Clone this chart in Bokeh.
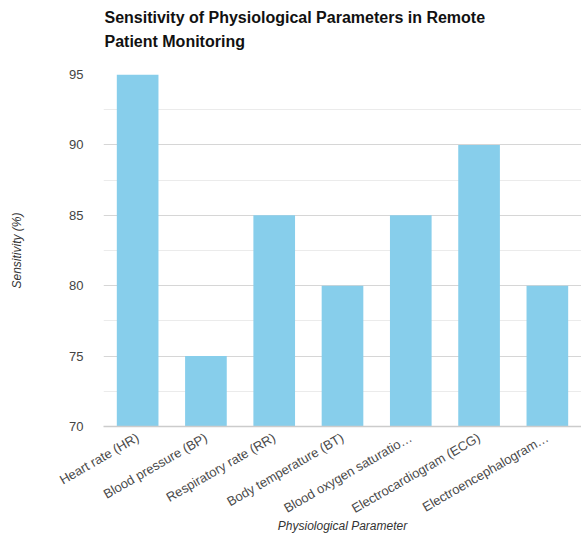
from math import pi

from bokeh.embed import file_html
from bokeh.models import FixedTicker, ColumnDataSource
from bokeh.plotting import figure
from bokeh.resources import INLINE

# Sensitivity of each physiological parameter (%); long names are shortened
# the way they appear on the category axis
parameters = [
    "Heart rate (HR)",
    "Blood pressure (BP)",
    "Respiratory rate (RR)",
    "Body temperature (BT)",
    "Blood oxygen saturatio…",
    "Electrocardiogram (ECG)",
    "Electroencephalogram…",
]
sensitivity = [95, 75, 85, 80, 85, 90, 80]

y_ticks = [70, 75, 80, 85, 90, 95]
y_minor = [72.5, 77.5, 82.5, 87.5, 92.5]

title_lines = ["Sensitivity of Physiological Parameters in Remote", "Patient Monitoring"]

source = ColumnDataSource(data=dict(parameter=parameters, value=sensitivity))

FONT = "Liberation Sans"

p = figure(
    x_range=parameters,
    y_range=(70, 95),
    width=581,
    height=537,
    output_backend="svg",
    toolbar_location=None,
    min_border_left=103,
    min_border_right=0,
    min_border_top=74,
    min_border_bottom=111,
    outline_line_color=None,
    background_fill_color="white",
    border_fill_color="white",
)

# Title block; a blank (non-breaking space) third line keeps the gap to the frame
p.title.text = "\n".join(title_lines + ["\u00a0"])
p.title.text_font = FONT
p.title.text_font_size = "16px"
p.title.text_font_style = "bold"
p.title.text_color = "#111111"
p.title.text_line_height = 1.44
p.title.offset = 1
p.title.standoff = 0

p.vbar(x="parameter", top="value", bottom=70, width=0.61, source=source,
       fill_color="#87CEEB", line_color=None)

# Y axis
p.yaxis.ticker = FixedTicker(ticks=y_ticks, minor_ticks=y_minor)
p.yaxis.axis_line_color = None
p.yaxis.major_tick_line_color = None
p.yaxis.minor_tick_line_color = None
p.yaxis.major_label_text_font = FONT
p.yaxis.major_label_text_font_size = "13px"
p.yaxis.major_label_text_color = "#444444"
p.yaxis.major_label_standoff = 14
p.yaxis.axis_label = "Sensitivity (%)"
p.yaxis.axis_label_text_font = FONT
p.yaxis.axis_label_text_font_size = "12px"
p.yaxis.axis_label_text_font_style = "italic"
p.yaxis.axis_label_text_color = "#333333"
p.yaxis.axis_label_standoff = 42

# X axis
p.xaxis.major_label_orientation = pi / 6
p.xaxis.axis_line_color = "#cccccc"
p.xaxis.axis_line_width = 1.5
p.xaxis.major_tick_line_color = None
p.xaxis.minor_tick_line_color = None
p.xaxis.major_label_text_font = FONT
p.xaxis.major_label_text_font_size = "13px"
p.xaxis.major_label_text_color = "#4a4a4a"
p.xaxis.major_label_standoff = 4
p.xaxis.axis_label = "Physiological Parameter"
p.xaxis.axis_label_text_font = FONT
p.xaxis.axis_label_text_font_size = "12px"
p.xaxis.axis_label_text_font_style = "italic"
p.xaxis.axis_label_text_color = "#333333"
p.xaxis.axis_label_standoff = -6

# Grid
p.xgrid.grid_line_color = None
p.ygrid.grid_line_color = "#d6d6d6"
p.ygrid.minor_grid_line_color = "#ebebeb"
p.ygrid.level = "underlay"

open("out.html", "w").write(file_html(p, INLINE))
